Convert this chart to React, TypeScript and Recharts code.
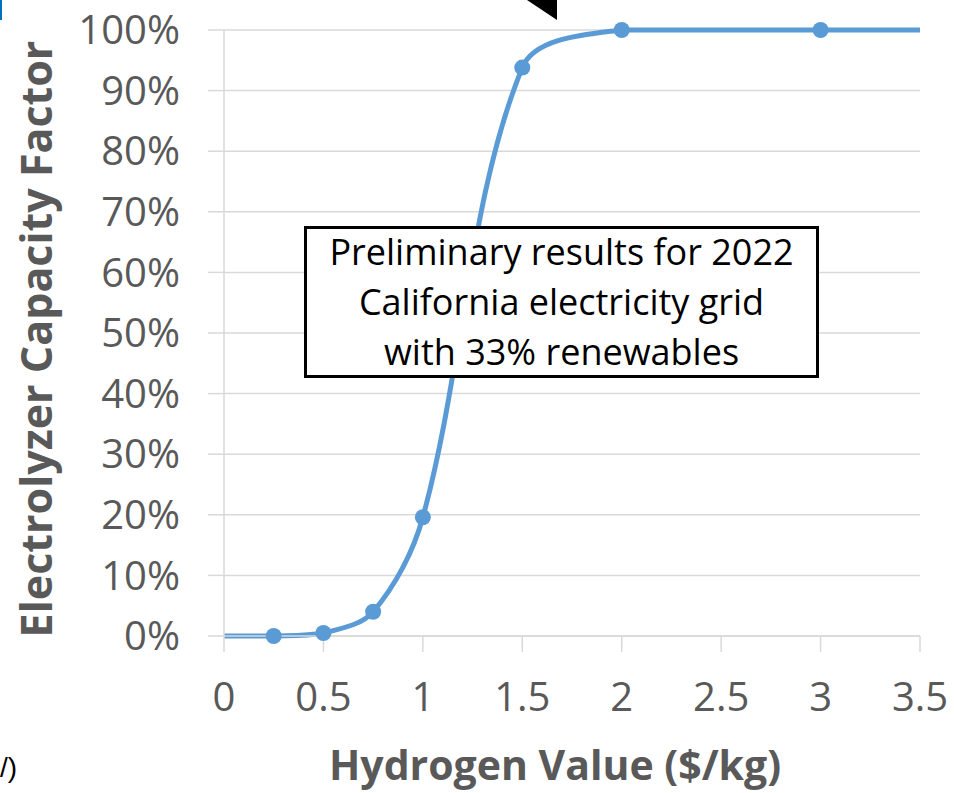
import React from "react";
import { LineChart, Line, XAxis, YAxis, CartesianGrid } from "recharts";

const hydrogenValue = [0, 0.25, 0.5, 0.75, 1, 1.5, 2, 3, 3.5];
const capacityFactor = [0, 0, 0.5, 4, 19.6, 93.8, 100, 100, 100];
const hasMarker = [false, true, true, true, true, true, true, true, false];
const xTicks = [0, 0.5, 1, 1.5, 2, 2.5, 3, 3.5];
const yTicks = [0, 10, 20, 30, 40, 50, 60, 70, 80, 90, 100];
const noteLines = [
  "Preliminary results for 2022",
  "California electricity grid",
  "with 33% renewables",
];

const data = hydrogenValue.map((x, i) => ({
  x,
  y: capacityFactor[i],
  marker: hasMarker[i],
}));

const BLUE = "#5B9BD5";
const GREY_TEXT = "#595959";
const GRID = "#D9D9D9";
const FONT = "'Open Sans', sans-serif";

// Spreadsheet-style smoothed line: chord-length weighted Catmull-Rom Bezier,
// control points kept within the data's vertical range.
function smoothCurve(context: any) {
  let pts: [number, number][] = [];
  const dist = (a: [number, number], b: [number, number]) =>
    Math.hypot(b[0] - a[0], b[1] - a[1]);
  return {
    areaStart() {},
    areaEnd() {},
    lineStart() {
      pts = [];
    },
    lineEnd() {
      const n = pts.length;
      if (n === 0) return;
      context.moveTo(pts[0][0], pts[0][1]);
      if (n === 1) return;
      const ys = pts.map((p) => p[1]);
      const yMin = Math.min(...ys);
      const yMax = Math.max(...ys);
      const clamp = (v: number) => Math.max(yMin, Math.min(yMax, v));
      for (let i = 0; i < n - 1; i++) {
        const p0 = pts[Math.max(0, i - 1)];
        const p1 = pts[i];
        const p2 = pts[i + 1];
        const p3 = pts[Math.min(n - 1, i + 2)];
        const d01 = dist(p0, p1);
        const d12 = dist(p1, p2);
        const d23 = dist(p2, p3);
        const f1 = d01 + d12 > 0 ? d12 / (d01 + d12) / 3 : 0;
        const f2 = d12 + d23 > 0 ? d12 / (d12 + d23) / 3 : 0;
        const c1x = p1[0] + (p2[0] - p0[0]) * f1;
        const c1y = clamp(p1[1] + (p2[1] - p0[1]) * f1);
        const c2x = p2[0] - (p3[0] - p1[0]) * f2;
        const c2y = clamp(p2[1] - (p3[1] - p1[1]) * f2);
        context.bezierCurveTo(c1x, c1y, c2x, c2y, p2[0], p2[1]);
      }
    },
    point(x: number, y: number) {
      pts.push([+x, +y]);
    },
  };
}

const Dot = (props: any) => {
  const { cx, cy, payload, index } = props;
  if (!payload || !payload.marker) return <g key={`d${index}`} />;
  return <circle key={`d${index}`} cx={cx} cy={cy} r={8} fill={BLUE} stroke="none" />;
};

export default function App() {
  return (
    <div
      style={{
        position: "absolute",
        left: 0,
        top: 0,
        width: 954,
        height: 793,
        overflow: "hidden",
        background: "#fff",
        fontFamily: FONT,
      }}
    >
      <LineChart
        width={954}
        height={793}
        data={data}
        margin={{ top: 30, right: 34, bottom: 0, left: 0 }}
      >
        <CartesianGrid vertical={false} stroke={GRID} strokeWidth={1.5} />
        <XAxis
          dataKey="x"
          type="number"
          domain={[0, 3.5]}
          ticks={xTicks}
          interval={0}
          height={157}
          stroke={GRID}
          strokeWidth={1.5}
          tickSize={16}
          tickMargin={31}
          tick={{ fill: GREY_TEXT, fontSize: 40, fontFamily: FONT }}
          allowDataOverflow
        />
        <YAxis
          type="number"
          domain={[0, 100]}
          ticks={yTicks}
          interval={0}
          stroke={GRID}
          strokeWidth={1.5}
          tickSize={16}
          tickMargin={28}
          width={224}
          tickFormatter={(v: number) => `${v}%`}
          tick={{ fill: GREY_TEXT, fontSize: 40, fontFamily: FONT }}
        />
        <Line
          dataKey="y"
          type={smoothCurve as any}
          stroke={BLUE}
          strokeWidth={5}
          dot={<Dot />}
          activeDot={false}
          isAnimationActive={false}
        />
      </LineChart>

      {/* Axis titles */}
      <div
        style={{
          position: "absolute",
          left: 555 - 300,
          width: 600,
          top: 736,
          textAlign: "center",
          fontWeight: 700,
          fontSize: 41,
          color: GREY_TEXT,
          fontFamily: FONT,
          whiteSpace: "nowrap",
        }}
      >
        Hydrogen Value ($/kg)
      </div>
      <div
        style={{
          position: "absolute",
          left: 36 - 350,
          top: 339 - 30,
          width: 700,
          height: 60,
          lineHeight: "60px",
          textAlign: "center",
          fontWeight: 700,
          fontSize: 43,
          color: GREY_TEXT,
          fontFamily: FONT,
          transform: "rotate(-90deg)",
          whiteSpace: "nowrap",
        }}
      >
        Electrolyzer Capacity Factor
      </div>

      {/* Annotation box */}
      <div
        style={{
          position: "absolute",
          left: 304,
          top: 226,
          width: 515,
          height: 152,
          boxSizing: "border-box",
          border: "3px solid #000",
          background: "#fff",
          display: "flex",
          flexDirection: "column",
          justifyContent: "center",
          alignItems: "center",
          fontFamily: FONT,
          fontSize: 36,
          lineHeight: "50px",
          color: "#000",
        }}
      >
        {noteLines.map((t) => (
          <div key={t} style={{ whiteSpace: "nowrap" }}>
            {t}
          </div>
        ))}
      </div>

      {/* Cropped fragments at the page edges */}
      <svg
        width={954}
        height={793}
        style={{ position: "absolute", left: 0, top: 0, pointerEvents: "none" }}
      >
        <polygon points="527,0 557,0 557,20" fill="#000" />
        <rect x={0} y={0} width={2} height={20} fill="#0070C0" />
      </svg>
      <div
        style={{
          position: "absolute",
          left: 0,
          top: 752,
          fontSize: 28,
          fontFamily: "Arial, sans-serif",
          color: "#000",
        }}
      >
        /)
      </div>
    </div>
  );
}
